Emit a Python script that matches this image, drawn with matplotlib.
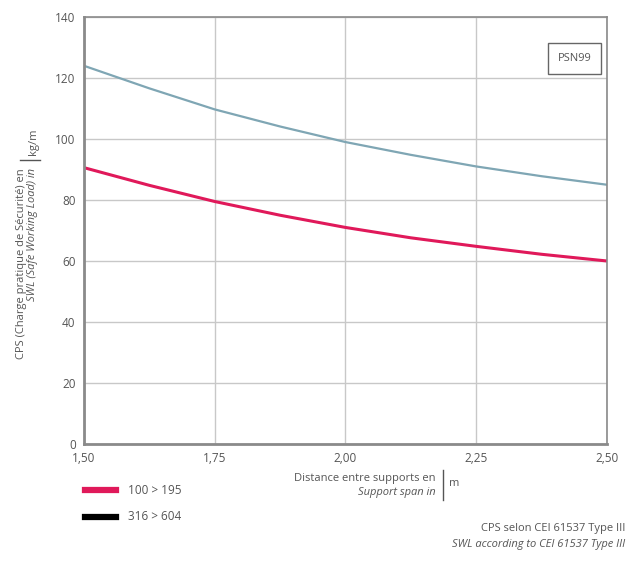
import matplotlib
matplotlib.use("Agg")
import matplotlib.pyplot as plt

# Données
span = [1.50, 1.625, 1.75, 1.875, 2.00, 2.125, 2.25, 2.375, 2.50]
load_red = [90.6, 84.8, 79.5, 75.0, 71.0, 67.6, 64.8, 62.2, 60.0]
load_blue = [124.0, 116.6, 109.7, 104.1, 99.0, 94.8, 91.0, 87.8, 85.0]
xticks = [1.50, 1.75, 2.00, 2.25, 2.50]
xtick_labels = ["1,50", "1,75", "2,00", "2,25", "2,50"]
yticks = [0, 20, 40, 60, 80, 100, 120, 140]
legend_labels = ["100 > 195", "316 > 604"]

plt.rcParams['font.family'] = ['Open Sans', 'DejaVu Sans']
txt = '#555555'
red = '#e0195a'
blue = '#7fa6b4'

fig = plt.figure(figsize=(6.27, 5.63), dpi=100)
ax = fig.add_axes([0.134, 0.2114, 0.834, 0.7584])

ax.plot(span, load_red, color=red, lw=2.2)
ax.plot(span, load_blue, color=blue, lw=1.6)

ax.set_xlim(1.5, 2.5)
ax.set_ylim(0, 140)
ax.set_xticks(xticks)
ax.set_xticklabels(xtick_labels)
ax.set_yticks(yticks)
ax.grid(True, color='#c8c8c8', lw=1)
ax.tick_params(length=0, labelsize=8.5, labelcolor=txt, pad=6)
for s in ax.spines.values():
    s.set_color('#8a8a8a')
    s.set_linewidth(1.2)
ax.spines['left'].set_linewidth(2)
ax.spines['bottom'].set_linewidth(2)

# boîte PSN99
ax.text(0.938, 0.902, "PSN99", transform=ax.transAxes, ha='center', va='center',
        fontsize=8, color=txt,
        bbox=dict(boxstyle='square,pad=0.9', fc='white', ec='#666666', lw=1))

# titre axe Y
fig.text(22 / 627, 1 - 168 / 563, "CPS (Charge pratique de Sécurité) en", rotation=90,
         ha='center', va='top', fontsize=8, color=txt)
fig.text(33 / 627, 1 - 168 / 563, "SWL (Safe Working Load) in", rotation=90,
         ha='center', va='top', fontsize=8, color=txt, style='italic')
fig.add_artist(plt.Line2D([20 / 627, 40 / 627], [1 - 160 / 563, 1 - 160 / 563], color=txt, lw=1))
fig.text(34 / 627, 1 - 155 / 563, "kg/m", rotation=90, ha='center', va='bottom',
         fontsize=8, color=txt)

# titre axe X
fig.text(436 / 627, 1 - 478 / 563, "Distance entre supports en", ha='right', va='center',
         fontsize=8, color=txt)
fig.text(436 / 627, 1 - 493 / 563, "Support span in", ha='right', va='center',
         fontsize=8, color=txt, style='italic')
fig.add_artist(plt.Line2D([443 / 627, 443 / 627], [1 - 470 / 563, 1 - 500 / 563], color=txt, lw=1))
fig.text(449 / 627, 1 - 484 / 563, "m", ha='left', va='center', fontsize=8, color=txt)

# légende
for i, (c, lab) in enumerate(zip([red, 'black'], legend_labels)):
    y = 1 - (490 + 27 * i) / 563
    fig.add_artist(plt.Line2D([85 / 627, 116 / 627], [y, y], color=c, lw=4.5))
    fig.text(128 / 627, y, lab, ha='left', va='center', fontsize=8.5, color=txt)

# note
fig.text(625 / 627, 1 - 528 / 563, "CPS selon CEI 61537 Type III", ha='right', va='center',
         fontsize=8, color=txt)
fig.text(625 / 627, 1 - 545 / 563, "SWL according to CEI 61537 Type III", ha='right',
         va='center', fontsize=8, color=txt, style='italic')

fig.savefig("out.png", dpi=100, facecolor='white')
